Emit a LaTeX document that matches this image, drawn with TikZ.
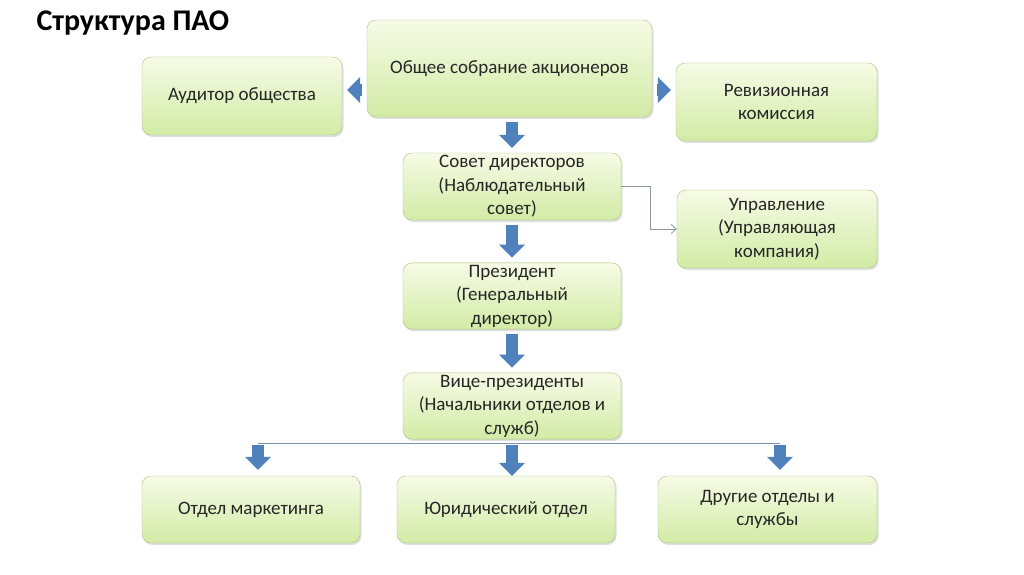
\documentclass[tikz,border=0pt]{standalone}
\usepackage{fontspec}
\setmainfont{Carlito}
\usetikzlibrary{arrows.meta,shadows}

\definecolor{boxtop}{RGB}{246,251,230}
\definecolor{boxbottom}{RGB}{210,235,165}
\definecolor{boxline}{RGB}{168,194,128}
\definecolor{arrowblue}{RGB}{79,129,189}
\definecolor{busline}{RGB}{125,145,175}
\definecolor{linkgray}{RGB}{140,150,160}

\tikzset{
  orgbox/.style={shape=rectangle, rounded corners=9pt, draw=boxline,
    top color=boxtop, bottom color=boxbottom,
    drop shadow={opacity=0.25, shadow xshift=1.5pt, shadow yshift=-2pt},
    align=center, inner sep=2pt, text=black!85,
    font=\fontsize{19}{23.5}\selectfont},
  blockarrow/.style={line width=12pt, draw=arrowblue,
    -{Triangle[width=26pt, length=13pt, line width=0pt]},
    shorten <=5pt, shorten >=5pt},
  thinlink/.style={draw=linkgray, line width=0.8pt,
    -{Straight Barb[length=5pt, width=9pt]}}
}

\begin{document}
\begin{tikzpicture}[x=1pt, y=1pt]
  \useasboundingbox (0,0) rectangle (1024,574);

  % title
  \node[anchor=west, font=\fontsize{30}{36}\selectfont\bfseries] (title) at (33,551) {Структура ПАО};

  % top level
  \node[orgbox, minimum width=285pt, minimum height=97pt] (meeting) at (509.5,505.5) {Общее собрание акционеров};
  \node[orgbox, minimum width=200pt, minimum height=78pt] (auditor) at (242,478) {Аудитор общества};
  \node[orgbox, minimum width=201pt, minimum height=78pt] (revision) at (776.5,472) {Ревизионная\\комиссия};

  % chain of management
  \node[orgbox, minimum width=218pt, minimum height=67pt] (board) at (512,387.5) {Совет директоров\\(Наблюдательный\\совет)};
  \node[orgbox, minimum width=200pt, minimum height=78pt] (company) at (777,345) {Управление\\(Управляющая\\компания)};
  \node[orgbox, minimum width=218pt, minimum height=66pt] (president) at (512,278) {Президент\\(Генеральный\\директор)};
  \node[orgbox, minimum width=218pt, minimum height=66pt] (vice) at (512,168) {Вице-президенты\\(Начальники отделов и\\служб)};

  % departments
  \node[orgbox, minimum width=218pt, minimum height=67pt] (marketing) at (251,64.5) {Отдел маркетинга};
  \node[orgbox, minimum width=218pt, minimum height=67pt] (legal) at (506,64.5) {Юридический отдел};
  \node[orgbox, minimum width=219pt, minimum height=67pt] (others) at (767.5,64.5) {Другие отделы и\\службы};

  % arrows
  \draw[blockarrow] ([yshift=6pt]auditor.east -| meeting.west) -- ([yshift=6pt]auditor.east);
  \draw[blockarrow] ([yshift=12pt]revision.west -| meeting.east) -- ([yshift=12pt]revision.west);
  \draw[blockarrow] (board.north |- meeting.south) -- (board.north);
  \draw[blockarrow] (board) -- (president);
  \draw[blockarrow] (president) -- (vice);
  \draw[thinlink] (board.east) -- ++(29,0) |- (company.west);

  % bus to departments
  \coordinate (busL) at (258,131);
  \coordinate (busM) at (512,131);
  \coordinate (busR) at (780,131);
  \draw[busline, line width=0.9pt] (busL) -- (busR);
  \draw[blockarrow, shorten <=2pt, shorten >=6pt] (busL) -- (busL |- marketing.north);
  \draw[blockarrow, shorten <=2pt, shorten >=0pt] (busM) -- (busM |- legal.north);
  \draw[blockarrow, shorten <=2pt, shorten >=6pt] (busR) -- (busR |- others.north);
\end{tikzpicture}
\end{document}
